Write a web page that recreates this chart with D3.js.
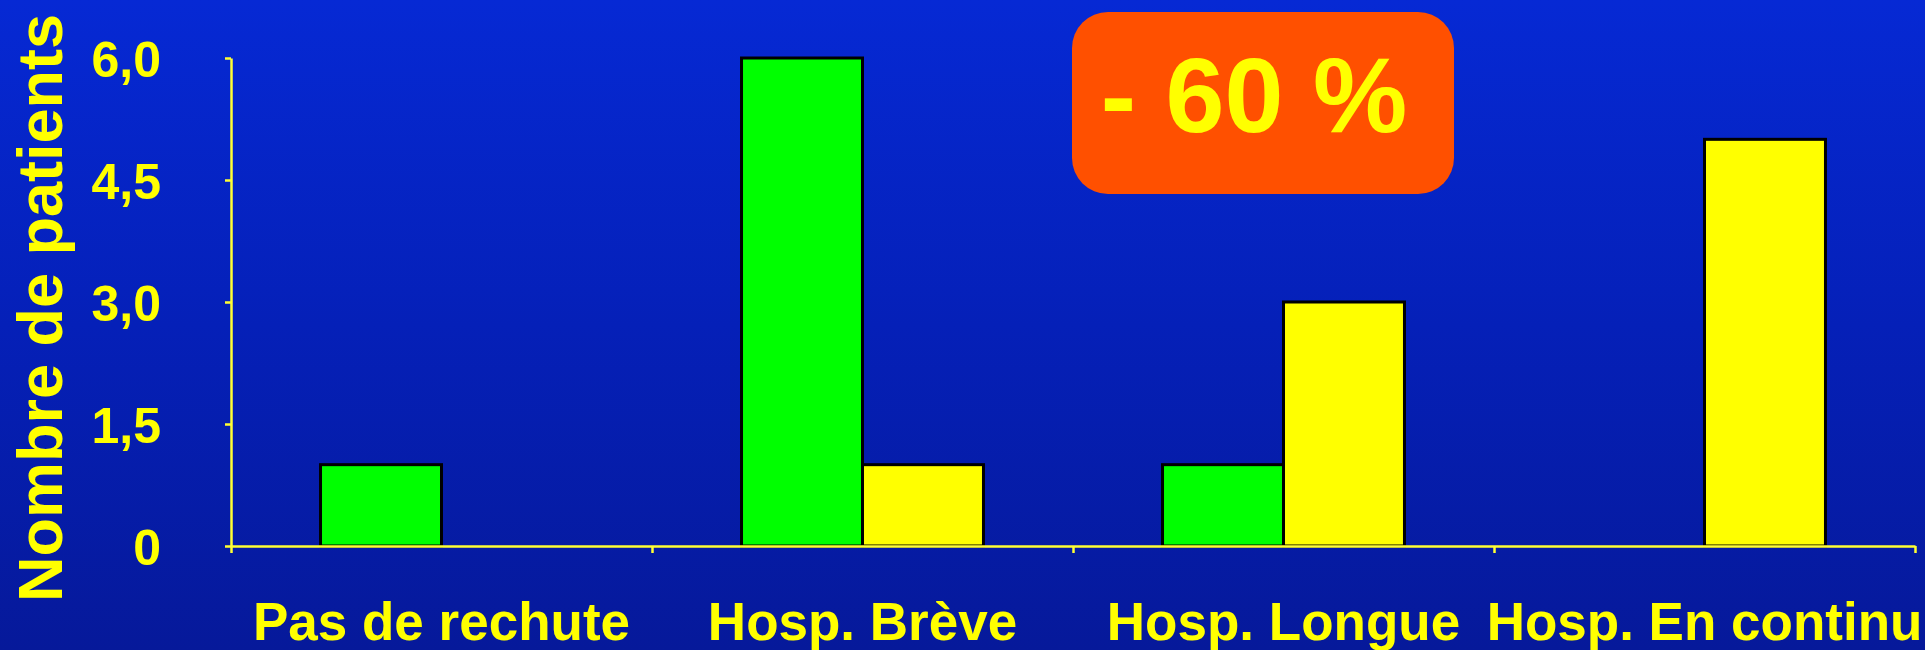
<!DOCTYPE html>
<html>
<head>
<meta charset="utf-8">
<script src="https://cdn.jsdelivr.net/npm/d3@7"></script>
<style>
  html, body { margin: 0; padding: 0; overflow: hidden; }
  body { width: 1925px; height: 650px; }
  text { font-family: Arial, "Liberation Sans", sans-serif; font-weight: bold; }
</style>
</head>
<body>
<div id="chart"></div>
<script>
// chart data
var categories = ["Pas de rechute", "Hosp. Brève", "Hosp. Longue", "Hosp. En continu"];
var seriesNames = ["avant", "apres"];
var greenValues = [1, 6, 1, 0];
var yellowValues = [0, 1, 3, 5];
var yTicks = [0, 1.5, 3, 4.5, 6];
var yTickLabels = ["0", "1,5", "3,0", "4,5", "6,0"];
var yTitle = "Nombre de patients";
var badgeText = "- 60 %";

var W = 1925, H = 650;
var margin = {top: 58, right: 10, bottom: 104, left: 231};
var width = 1915 - margin.left,
    height = 546 - margin.top;

var colors = {avant: "#00ff00", apres: "#ffff00"};

var svg = d3.select("#chart")
    .append("svg")
        .attr("width", W)
        .attr("height", H);

// background gradient
var grad = svg.append("defs").append("linearGradient")
    .attr("id", "bg")
    .attr("x1", 0).attr("y1", 0).attr("x2", 0).attr("y2", 1);
grad.append("stop").attr("offset", "0%").attr("stop-color", "#0629d4");
grad.append("stop").attr("offset", "50%").attr("stop-color", "#0520b8");
grad.append("stop").attr("offset", "100%").attr("stop-color", "#06199a");

svg.append("rect")
    .attr("width", W).attr("height", H)
    .attr("fill", "url(#bg)");

var g = svg.append("g")
    .attr("transform", "translate(" + margin.left + "," + margin.top + ")");

// scales
var x0 = d3.scaleBand().domain(categories).range([0, width]).padding(0);
var x1 = d3.scaleBand().domain(seriesNames).range([0, x0.bandwidth()])
    .paddingInner(0).paddingOuter(0.74);
var y = d3.scaleLinear().domain([0, 6]).range([height, 0]);

var rows = categories.map(function(c, i) {
    return {cat: c, values: [
        {key: "avant", value: greenValues[i]},
        {key: "apres", value: yellowValues[i]}
    ]};
});

// bars
var groups = g.selectAll(".grp")
    .data(rows)
    .enter().append("g")
    .attr("class", "grp")
    .attr("transform", function(d) { return "translate(" + x0(d.cat) + ",0)"; });

groups.selectAll("rect")
    .data(function(d) { return d.values.filter(function(v) { return v.value > 0; }); })
    .enter().append("rect")
    .attr("x", function(d) { return x1(d.key); })
    .attr("y", function(d) { return y(d.value); })
    .attr("width", x1.bandwidth())
    .attr("height", function(d) { return height - y(d.value); })
    .attr("fill", function(d) { return colors[d.key]; })
    .attr("stroke", "#000")
    .attr("stroke-width", 3);

// y axis
var yAxis = g.append("g")
    .attr("class", "axis")
    .call(d3.axisLeft(y).tickValues(yTicks)
        .tickFormat(function(d, i) { return yTickLabels[i]; })
        .tickSize(6).tickPadding(64).tickSizeOuter(0));

// x axis
var xAxis = g.append("g")
    .attr("class", "axis")
    .attr("transform", "translate(0," + height + ")")
    .call(d3.axisBottom(d3.scaleLinear().domain([0, categories.length]).range([0, width]))
        .ticks(categories.length).tickFormat("").tickSize(7).tickSizeOuter(0));

g.selectAll(".axis path").attr("stroke", "#ffff33").attr("stroke-width", 2.5);
g.selectAll(".axis line").attr("stroke", "#ffff33").attr("stroke-width", 2.5);
yAxis.selectAll("text")
    .attr("fill", "#ffff00")
    .style("font-size", "50px")
    .style("font-family", "Arial, 'Liberation Sans', sans-serif")
    .style("font-weight", "bold")
    .attr("dy", "0.36em");

// category labels
g.selectAll(".cat")
    .data(categories)
    .enter().append("text")
    .attr("class", "cat")
    .attr("x", function(d) { return x0(d) + x0.bandwidth() / 2; })
    .attr("y", 640 - margin.top)
    .attr("text-anchor", "middle")
    .attr("fill", "#ffff00")
    .style("font-size", "53px")
    .text(function(d) { return d; });

// y title
svg.append("text")
    .attr("transform", "translate(62,308) rotate(-90)")
    .attr("text-anchor", "middle")
    .attr("fill", "#ffff00")
    .style("font-size", "63px")
    .text(yTitle);

// badge
svg.append("rect")
    .attr("x", 1072).attr("y", 12)
    .attr("width", 382).attr("height", 182)
    .attr("rx", 36).attr("ry", 36)
    .attr("fill", "#ff5000");

svg.append("text")
    .attr("x", 1254).attr("y", 132)
    .attr("text-anchor", "middle")
    .attr("fill", "#ffff00")
    .style("font-size", "106px")
    .text(badgeText);
</script>
</body>
</html>
